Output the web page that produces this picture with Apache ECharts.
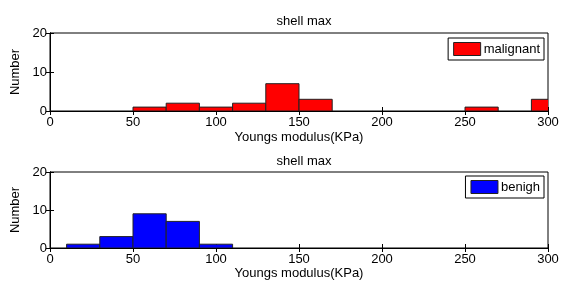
<!DOCTYPE html>
<html>
<head>
<meta charset="utf-8">
<script src="https://cdn.jsdelivr.net/npm/echarts@6/dist/echarts.min.js"></script>
<style>
html,body{margin:0;padding:0;background:#fff;}
#main{width:564px;height:282px;}
</style>
</head>
<body>
<div id="main"></div>
<script>
// histogram data, bin width 20 (bin left edges + counts)
var binWidth = 20;
var malignantStart = [50, 70, 90, 110, 130, 150, 250, 290];
var malignantCount = [1, 2, 1, 2, 7, 3, 1, 3];
var benignStart = [10, 30, 50, 70, 90];
var benignCount = [1, 3, 9, 7, 1];
var xTicks = [0, 50, 100, 150, 200, 250, 300];
var yTicks = [0, 10, 20];

var font = 'Liberation Sans, Arial, sans-serif';

function toBins(starts, counts) {
	var out = [];
	for (var i = 0; i < starts.length; i++) {
		out.push([starts[i], starts[i] + binWidth, counts[i]]);
	}
	return out;
}

function renderBar(params, api) {
	var p0 = api.coord([api.value(0), 0]);
	var p1 = api.coord([api.value(1), api.value(2)]);
	return {
		type: 'rect',
		shape: { x: p0[0], y: p1[1], width: p1[0] - p0[0], height: p0[1] - p1[1] },
		style: api.style({ stroke: '#222', lineWidth: 1 })
	};
}

function xAxisFor(idx, pos, gap) {
	return {
		gridIndex: idx,
		type: 'value',
		position: pos,
		min: xTicks[0],
		max: xTicks[xTicks.length - 1],
		interval: 50,
		name: pos == 'bottom' ? 'Youngs modulus(KPa)' : '',
		nameLocation: 'middle',
		nameGap: gap,
		nameTextStyle: { color: '#000', fontSize: 13, fontFamily: font },
		axisLine: { show: true, lineStyle: { color: '#000', width: 1 } },
		axisTick: { show: true, inside: true, length: 4, lineStyle: { color: '#000' } },
		axisLabel: { show: pos == 'bottom', color: '#000', fontSize: 13, fontFamily: font, margin: 5 },
		splitLine: { show: false }
	};
}

function yAxisFor(idx, pos) {
	return {
		gridIndex: idx,
		type: 'value',
		position: pos,
		min: yTicks[0],
		max: yTicks[yTicks.length - 1],
		interval: 10,
		name: pos == 'left' ? 'Number' : '',
		nameLocation: 'middle',
		nameRotate: 90,
		nameGap: 20,
		nameTextStyle: { color: '#000', fontSize: 13, fontFamily: font },
		axisLine: { show: true, lineStyle: { color: '#000', width: 1 } },
		axisTick: { show: true, inside: true, length: 4, lineStyle: { color: '#000' } },
		axisLabel: { show: pos == 'left', color: '#000', fontSize: 13, fontFamily: font, margin: 3 },
		splitLine: { show: false }
	};
}

var chart = echarts.init(document.getElementById('main'));
var option = {
	backgroundColor: '#fff',
	animation: false,
	title: [
		{ text: 'shell max', left: 299, top: 10, textAlign: 'center',
		  textStyle: { color: '#000', fontSize: 13, fontWeight: 'normal', fontFamily: font } },
		{ text: 'shell max', left: 299, top: 150, textAlign: 'center',
		  textStyle: { color: '#000', fontSize: 13, fontWeight: 'normal', fontFamily: font } }
	],
	legend: [
		{ data: ['malignant'], right: 20, top: 38, padding: [4, 4, 4, 5], itemWidth: 27, itemHeight: 13, itemGap: 3,
		  backgroundColor: '#fff', borderColor: '#000', borderWidth: 1, borderRadius: 0, icon: 'path://M0,0H27V13H0Z',
		  itemStyle: { borderColor: '#222', borderWidth: 1 },
		  textStyle: { color: '#000', fontSize: 13, fontFamily: font, padding: [0, 0, 0, -2] } },
		{ data: ['benigh'], right: 20, top: 176, padding: [4, 4, 4, 5], itemWidth: 27, itemHeight: 13, itemGap: 3,
		  backgroundColor: '#fff', borderColor: '#000', borderWidth: 1, borderRadius: 0, icon: 'path://M0,0H27V13H0Z',
		  itemStyle: { borderColor: '#222', borderWidth: 1 },
		  textStyle: { color: '#000', fontSize: 13, fontFamily: font, padding: [0, 0, 0, -2] } }
	],
	grid: [
		{ left: 50, width: 498, top: 33, height: 78, show: true, borderColor: '#000', borderWidth: 1, backgroundColor: '#fff' },
		{ left: 50, width: 498, top: 172, height: 76, show: true, borderColor: '#000', borderWidth: 1, backgroundColor: '#fff' }
	],
	xAxis: [xAxisFor(0, 'bottom', 20), xAxisFor(0, 'top', 0), xAxisFor(1, 'bottom', 17), xAxisFor(1, 'top', 0)],
	yAxis: [yAxisFor(0, 'left'), yAxisFor(0, 'right'), yAxisFor(1, 'left'), yAxisFor(1, 'right')],
	series: [
		{
			name: 'malignant',
			type: 'custom',
			xAxisIndex: 0,
			yAxisIndex: 0,
			clip: true,
			itemStyle: { color: '#ff0000', borderColor: '#222', borderWidth: 1 },
			renderItem: renderBar,
			encode: { x: [0, 1], y: 2 },
			data: toBins(malignantStart, malignantCount)
		},
		{
			name: 'benigh',
			type: 'custom',
			xAxisIndex: 2,
			yAxisIndex: 2,
			clip: true,
			itemStyle: { color: '#0000ff', borderColor: '#222', borderWidth: 1 },
			renderItem: renderBar,
			encode: { x: [0, 1], y: 2 },
			data: toBins(benignStart, benignCount)
		}
	]
};
chart.setOption(option);
</script>
</body>
</html>
